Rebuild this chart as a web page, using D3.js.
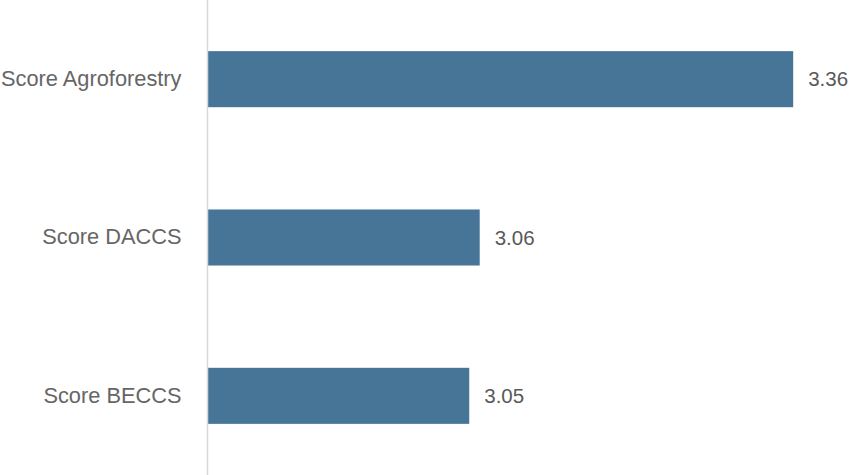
<!DOCTYPE html>
<html>
<head>
<meta charset="utf-8">
<script src="https://cdn.jsdelivr.net/npm/d3@7"></script>
<style>
  body { margin: 0; background: #fff; }
  svg text { font-family: "Liberation Sans", Arial, sans-serif; }
</style>
</head>
<body>
<div id="chart"></div>
<script>
const categories = ["Score Agroforestry", "Score DACCS", "Score BECCS"];
const scores = [3.36, 3.06, 3.05];
const valueLabels = ["3.36", "3.06", "3.05"];

const width = 854;
const height = 475;

const svg = d3.select("#chart").append("svg")
    .attr("width", width)
    .attr("height", height);

// bars start at 2.8, not zero
const x = d3.scaleLinear()
    .domain([2.8, 3.4])
    .range([208, 835]);

const y = d3.scaleBand()
    .domain(categories)
    .range([0, height])
    .paddingInner(0.646)
    .paddingOuter(0.323);

svg.selectAll("rect.bar")
    .data(categories)
    .join("rect")
    .attr("class", "bar")
    .attr("x", x(2.8))
    .attr("y", d => y(d))
    .attr("width", (d, i) => x(scores[i]) - x(2.8))
    .attr("height", y.bandwidth())
    .attr("fill", "#477598");

// category axis
const yAxis = svg.append("g")
    .attr("transform", `translate(${x(2.8) - 0.5},0)`)
    .call(d3.axisLeft(y).tickSize(0).tickPadding(26));

yAxis.select(".domain")
    .attr("d", `M0,0V${height}`)
    .attr("stroke", "#d9d9d9")
    .attr("stroke-width", 1.5);

yAxis.selectAll("text")
    .attr("fill", "#666")
    .style("font-size", "21.8px");

svg.selectAll("text.value")
    .data(categories)
    .join("text")
    .attr("class", "value")
    .attr("x", (d, i) => x(scores[i]) + 15)
    .attr("y", d => y(d) + y.bandwidth() / 2)
    .attr("dy", "0.35em")
    .attr("fill", "#595959")
    .style("font-size", "20.5px")
    .text((d, i) => valueLabels[i]);
</script>
</body>
</html>
